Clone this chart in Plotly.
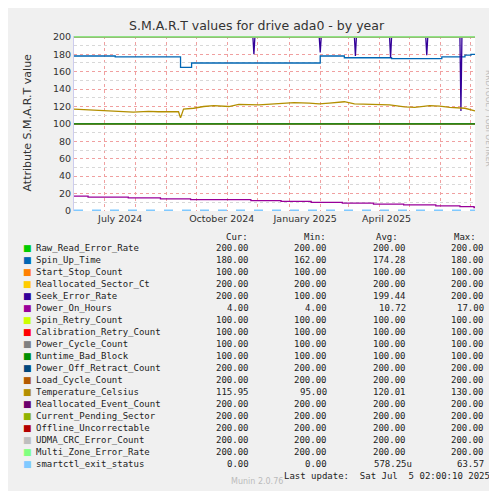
import pandas as pd
import plotly.graph_objects as go

start = "2024-06-01"
end = "2025-07-05"

names = ["Raw_Read_Error_Rate", "Spin_Up_Time", "Start_Stop_Count", "Reallocated_Sector_Ct",
         "Seek_Error_Rate", "Power_On_Hours", "Spin_Retry_Count", "Calibration_Retry_Count",
         "Power_Cycle_Count", "Runtime_Bad_Block", "Power_Off_Retract_Count", "Load_Cycle_Count",
         "Temperature_Celsius", "Reallocated_Event_Count", "Current_Pending_Sector",
         "Offline_Uncorrectable", "UDMA_CRC_Error_Count", "Multi_Zone_Error_Rate", "smartctl_exit_status"]
colors = ["#00CC00", "#0066B3", "#FF8000", "#FFCC00", "#330099", "#990099", "#CCFF00", "#FF0000",
          "#808080", "#008F00", "#00487D", "#B35A00", "#B38F00", "#6B006B", "#8FB300", "#B30000",
          "#BEBEBE", "#80FF80", "#80C9FF"]
cur = ["200.00", "180.00", "100.00", "200.00", "200.00", "4.00", "100.00", "100.00", "100.00", "100.00",
       "200.00", "200.00", "115.95", "200.00", "200.00", "200.00", "200.00", "200.00", "0.00"]
mins = ["200.00", "162.00", "100.00", "200.00", "100.00", "4.00", "100.00", "100.00", "100.00", "100.00",
        "200.00", "200.00", "95.00", "200.00", "200.00", "200.00", "200.00", "200.00", "0.00"]
avgs = ["200.00", "174.28", "100.00", "200.00", "199.44", "10.72", "100.00", "100.00", "100.00", "100.00",
        "200.00", "200.00", "120.01", "200.00", "200.00", "200.00", "200.00", "200.00", "578.25u"]
maxs = ["200.00", "180.00", "100.00", "200.00", "200.00", "17.00", "100.00", "100.00", "100.00", "100.00",
        "200.00", "200.00", "130.00", "200.00", "200.00", "200.00", "200.00", "200.00", "63.57"]
const_vals = [200, None, 100, 200, None, None, 100, 100, 100, 100, 200, 200, None, 200, 200, 200, 200, 200, 0]

spin_dates = ["2024-06-01", "2024-07-12", "2024-09-15", "2024-09-26", "2025-02-01", "2025-02-25",
              "2025-04-13", "2025-06-02", "2025-06-25", "2025-07-01", "2025-07-05"]
spin_vals = [178, 177, 165, 170, 178, 176, 175, 177, 179, 180, 180]

poh_dates = ["2024-06-01", "2024-06-15", "2024-07-25", "2024-08-26", "2024-09-25", "2024-11-24",
             "2024-12-24", "2025-01-23", "2025-02-23", "2025-03-26", "2025-04-25", "2025-05-27",
             "2025-06-20", "2025-07-04", "2025-07-05"]
poh_vals = [17, 16, 15, 14, 13, 12, 11, 10, 9, 8, 7, 6, 5, 4, 4]

temp_dates = ["2024-06-01", "2024-06-15", "2024-07-05", "2024-07-20", "2024-07-30", "2024-08-14",
              "2024-08-24", "2024-09-13", "2024-09-15", "2024-09-18", "2024-09-28", "2024-10-08",
              "2024-10-18", "2024-11-02", "2024-11-12", "2024-12-02", "2024-12-22", "2025-01-06",
              "2025-01-21", "2025-01-31", "2025-02-10", "2025-02-25", "2025-03-07", "2025-03-22",
              "2025-04-11", "2025-04-26", "2025-05-06", "2025-05-21", "2025-05-31", "2025-06-10",
              "2025-06-25", "2025-07-05"]
temp_vals = [117, 116, 114.5, 114, 113.5, 114.5, 114, 114, 107, 117, 118, 120, 121, 120, 122.5, 122,
             123, 124.5, 124, 123, 124, 125.5, 123, 122.5, 122, 119.5, 119, 121, 120.5, 119, 118, 115]

seek_spikes = ["2024-11-27", "2025-02-01", "2025-03-08", "2025-04-12", "2025-05-18", "2025-06-21"]
seek_depth = [180, 182, 178, 176, 179, 115]

tick_dates = ["2024-07-17", "2024-10-26", "2025-01-17", "2025-04-08"]
tick_text = ["July 2024", "October 2024", "January 2025", "April 2025"]


def seek_series():
    xs, ys = [start], [200]
    for d, v in zip(seek_spikes, seek_depth):
        t = pd.Timestamp(d)
        xs += [t - pd.Timedelta(days=1), t, t + pd.Timedelta(days=1)]
        ys += [200, v, 200]
    xs.append(end)
    ys.append(200)
    return xs, ys


fig = go.Figure()
for i in range(len(names)):
    if const_vals[i] is not None:
        x, y, shape = [start, end], [const_vals[i]] * 2, "linear"
    elif names[i] == "Spin_Up_Time":
        x, y, shape = spin_dates, spin_vals, "hv"
    elif names[i] == "Power_On_Hours":
        x, y, shape = poh_dates, poh_vals, "hv"
    elif names[i] == "Temperature_Celsius":
        x, y, shape = temp_dates, temp_vals, "linear"
    else:
        x, y = seek_series()
        shape = "linear"
    dash = "dash" if names[i] == "smartctl_exit_status" else "solid"
    w = 3 if names[i] == "smartctl_exit_status" else 1.3
    fig.add_trace(go.Scatter(x=x, y=y, mode="lines", line=dict(color=colors[i], width=w, dash=dash, shape=shape),
                             showlegend=False, hoverinfo="skip", cliponaxis=False))

# legend table as text
L, R, T, B = 66, 467, 28, 203
mono = dict(family="DejaVu Sans Mono", size=9, color="#222")
ann = []


def px(x):
    return (x - L) / (R - L)


def py(y):
    return (B - y) / (B - T)


ann.append(dict(x=px(242), y=py(229), text="Cur:", xanchor="right"))
ann.append(dict(x=px(320), y=py(229), text="Min:", xanchor="right"))
ann.append(dict(x=px(392), y=py(229), text="Avg:", xanchor="right"))
ann.append(dict(x=px(470), y=py(229), text="Max:", xanchor="right"))
for k, n in enumerate(names):
    yy = py(240 + 12 * k)
    ann.append(dict(x=px(13), y=yy, text="■", xanchor="left", font=dict(family="DejaVu Sans", size=9, color=colors[k])))
    ann.append(dict(x=px(26), y=yy, text=n, xanchor="left"))
    ann.append(dict(x=px(243), y=yy, text=cur[k], xanchor="right"))
    ann.append(dict(x=px(321), y=yy, text=mins[k], xanchor="right"))
    a = avgs[k]
    ann.append(dict(x=px(400 + (6 if a.endswith("u") else 0)), y=yy, text=a, xanchor="right"))
    ann.append(dict(x=px(478), y=yy, text=maxs[k], xanchor="right"))
ann.append(dict(x=px(484), y=py(468), text="Last update:  Sat Jul  5 02:00:10 2025", xanchor="right"))
for a in ann:
    a.update(xref="paper", yref="paper", showarrow=False, yanchor="middle")
    a.setdefault("font", mono)
ann.append(dict(x=px(249), y=py(480), xref="paper", yref="paper", showarrow=False, text="Munin 2.0.76",
                font=dict(family="DejaVu Sans", size=8, color="#bbb")))
ann.append(dict(x=px(487), y=py(60), xref="paper", yref="paper", showarrow=False, textangle=90,
                text="RRDTOOL / TOBI OETIKER", font=dict(family="DejaVu Sans", size=7.5, color="#bbb")))
ann.append(dict(x=px(10), y=py(115), xref="paper", yref="paper", showarrow=False, textangle=-90,
                text="Attribute S.M.A.R.T value", font=dict(family="DejaVu Sans", size=11, color="#333")))

fig.update_layout(
    width=497, height=491, margin=dict(l=L, r=497 - R, t=T, b=491 - B, autoexpand=False),
    paper_bgcolor="#f0f0f0", plot_bgcolor="#ffffff",
    title=dict(text="S.M.A.R.T values for drive ada0 - by year", x=0.5, y=1 - 18 / 491, yanchor="middle",
               font=dict(family="DejaVu Sans", size=12.5, color="#333")),
    annotations=ann,
    xaxis=dict(type="date", range=[start, end], tickvals=tick_dates, ticktext=tick_text, ticks="",
               showgrid=False, zeroline=False, tickfont=dict(family="DejaVu Sans", size=9.5, color="#333"),
               minor=dict(dtick="M1", tick0="2024-06-01", showgrid=True, gridcolor="#f0a0a0",
                          griddash="dot", gridwidth=1)),
    yaxis=dict(range=[0, 201], tickvals=list(range(0, 201, 20)), showgrid=True, gridcolor="#f0a0a0",
               griddash="dot", zeroline=False, tickfont=dict(family="DejaVu Sans", size=9.5, color="#333"),
               minor=dict(dtick=10, showgrid=True, gridcolor="#d8d8d8", griddash="dot"),
               showline=True, linecolor="#ccccee"),
)
fig.write_html("out.html")
